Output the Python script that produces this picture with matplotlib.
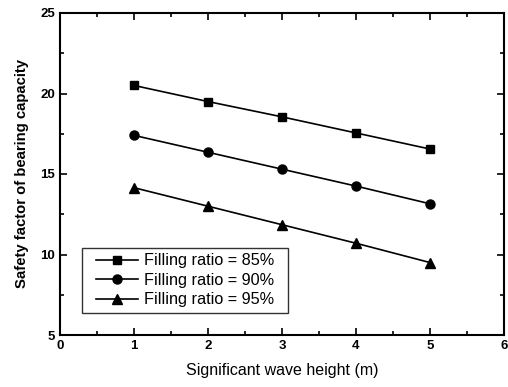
import matplotlib
matplotlib.use("Agg")
import matplotlib.pyplot as plt
from matplotlib.ticker import MultipleLocator

plt.rcParams["font.family"] = ["Liberation Sans", "DejaVu Sans"]

wave_height = [1, 2, 3, 4, 5]
sf_85 = [20.5, 19.5, 18.55, 17.55, 16.55]
sf_90 = [17.4, 16.35, 15.3, 14.25, 13.15]
sf_95 = [14.15, 13.0, 11.85, 10.7, 9.5]
labels = ["Filling ratio = 85%", "Filling ratio = 90%", "Filling ratio = 95%"]

fig = plt.figure(figsize=(5.08, 3.87), dpi=100)
ax = fig.add_axes([60 / 508, 1 - 335 / 387, 444 / 508, 322 / 387])

ax.plot(wave_height, sf_85, "k-", marker="s", markersize=6, lw=1.2, label=labels[0])
ax.plot(wave_height, sf_90, "k-", marker="o", markersize=6.5, lw=1.2, label=labels[1])
ax.plot(wave_height, sf_95, "k-", marker="^", markersize=7, lw=1.2, label=labels[2])

ax.set_xlim(0, 6)
ax.set_ylim(5, 25)
ax.xaxis.set_major_locator(MultipleLocator(1))
ax.xaxis.set_minor_locator(MultipleLocator(0.5))
ax.yaxis.set_major_locator(MultipleLocator(5))
ax.yaxis.set_minor_locator(MultipleLocator(2.5))
ax.tick_params(which="both", direction="in", top=True, right=True, width=1.2)
ax.tick_params(which="major", length=5, labelsize=9.5)
ax.tick_params(which="minor", length=3)
for lab in ax.get_xticklabels() + ax.get_yticklabels():
    lab.set_fontweight("bold")
for sp in ax.spines.values():
    sp.set_linewidth(1.5)

ax.set_xlabel("Significant wave height (m)", fontsize=11.5, labelpad=8)
ax.set_ylabel("Safety factor of bearing capacity", fontsize=10.7, fontweight="bold", labelpad=8)

# legend: wider padding left/right than top/bottom, like the original
leg = ax.legend(loc="lower left", bbox_to_anchor=(0.068, 0.068), fontsize=11.7,
                frameon=True, fancybox=False, edgecolor="black", handlelength=2.6,
                borderpad=0.35, labelspacing=0.28, handletextpad=0.35,
                borderaxespad=0)
frame = leg.get_frame()
frame.set_linewidth(1.0)
frame.set_boxstyle("square", pad=0.5)
frame.set_mutation_aspect(0.001)

fig.savefig("out.png", dpi=100)
